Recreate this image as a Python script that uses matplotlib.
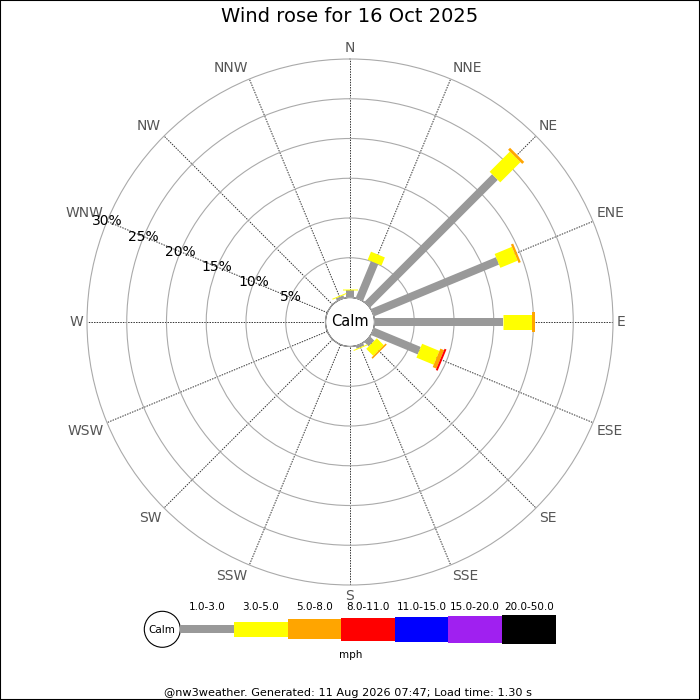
import matplotlib
matplotlib.use("Agg")
import matplotlib.pyplot as plt
import numpy as np
from matplotlib.patches import Rectangle, Circle

# directions, clockwise from north
directions = ["N", "NNE", "NE", "ENE", "E", "ESE", "SE", "SSE",
              "S", "SSW", "SW", "WSW", "W", "WNW", "NW", "NNW"]

speed_bins = ["1.0-3.0", "3.0-5.0", "5.0-8.0", "8.0-11.0",
              "11.0-15.0", "15.0-20.0", "20.0-50.0"]

# percent of time per direction, one list per speed bin (mph)
pct_1_3 = [0.95, 5.0, 22.7, 17.0, 16.2, 6.35, 0.75, 0.35,
           0, 0, 0, 0, 0, 0, 0, 0.35]
pct_3_5 = [0.12, 1.1, 3.6, 2.35, 3.55, 2.35, 1.25, 0.12,
           0, 0, 0, 0, 0, 0, 0, 0.12]
pct_5_8 = [0, 0, 0.35, 0.3, 0.42, 0.5, 0.2, 0,
           0, 0, 0, 0, 0, 0, 0, 0]
pct_8_11 = [0, 0, 0, 0, 0, 0.25, 0, 0,
            0, 0, 0, 0, 0, 0, 0, 0]
pct_11_15 = [0] * 16
pct_15_20 = [0] * 16
pct_20_50 = [0] * 16

ring_pcts = [5, 10, 15, 20, 25, 30]

title = "Wind rose for 16 Oct 2025"
footer = "@nw3weather. Generated: 11 Aug 2026 07:47; Load time: 1.30 s"

# styles
colors = ["#999999", "#ffff00", "#ffa500", "#ff0000", "#0000ff", "#a020f0", "#000000"]
widths_px = [8, 15, 20, 23, 25, 27, 29]
PX = 72 / 100  # points per pixel at dpi 100

series = [pct_1_3, pct_3_5, pct_5_8, pct_8_11, pct_11_15, pct_15_20, pct_20_50]

fig = plt.figure(figsize=(7, 7), dpi=100)

# polar area: centre (350, 322) px, outer ring 263 px, calm hole 24.5 px
rmax = 30
scale = (263 - 24.5) / rmax
rorigin = -24.5 / scale
side = 2 * 263 / 700
ax = fig.add_axes([(350 - 263) / 700, (378 - 263) / 700, side, side],
                  projection="polar")
ax.set_theta_zero_location("N")
ax.set_theta_direction(-1)
ax.set_rlim(0, rmax)
ax.set_rorigin(rorigin)

theta = np.deg2rad(np.arange(16) * 22.5)
ax.set_thetagrids(np.arange(16) * 22.5, [""] * 16)
ax.set_rgrids(ring_pcts[:-1], [""] * 5)
ax.xaxis.grid(True, color="#333333", linestyle=(0, (1.5, 1.2)), linewidth=0.7)
ax.yaxis.grid(True, color="#aaaaaa", linestyle="-", linewidth=0.8)
ax.spines["polar"].set_color("#aaaaaa")
ax.spines["polar"].set_linewidth(0.8)
for name in ("inner", "start", "end"):
    try:
        ax.spines[name].set_visible(False)
    except KeyError:
        pass

# stacked bars as thick radial lines
cum = np.zeros(16)
for vals, col, wpx in zip(series, colors, widths_px):
    vals = np.array(vals, dtype=float)
    for i in range(16):
        if vals[i] > 0:
            ax.plot([theta[i], theta[i]], [cum[i], cum[i] + vals[i]],
                    color=col, linewidth=wpx * PX, solid_capstyle="butt",
                    zorder=3)
    cum += vals

# calm circle
tt = np.linspace(0, 2 * np.pi, 300)
ax.plot(tt, np.zeros_like(tt), color="#aaaaaa", linewidth=0.8, zorder=4,
        clip_on=False)
ax.text(0.5, 0.5, "Calm", transform=ax.transAxes, ha="center", va="center",
        fontsize=10.5, color="black", zorder=5)

# direction labels
for t, lab in zip(theta, directions):
    s, c = np.sin(t), np.cos(t)
    ha = "left" if s > 0.01 else ("right" if s < -0.01 else "center")
    va = "bottom" if c > 0.01 else ("top" if c < -0.01 else "center")
    ax.text(t, 30.5, lab, ha=ha, va=va, fontsize=10, color="#555555",
            clip_on=False)

# percentage labels along WNW spoke
for r in ring_pcts:
    ax.text(theta[13], r, f"{r}%", ha="center", va="center", fontsize=10,
            color="black", clip_on=False, zorder=5)

# legend and texts in pixel coordinates
lax = fig.add_axes([0, 0, 1, 1])
lax.set_xlim(0, 700)
lax.set_ylim(700, 0)
lax.axis("off")
lax.patch.set_alpha(0)

lax.add_patch(Circle((162.3, 629.3), 18, facecolor="white",
                     edgecolor="black", linewidth=0.8))
lax.text(162.3, 630, "Calm", ha="center", va="center", fontsize=7.5)
x0, seg = 180.3, 53.6
for k, (lab, col, h) in enumerate(zip(speed_bins, colors, widths_px)):
    lax.add_patch(Rectangle((x0 + k * seg, 629.3 - h / 2), seg, h,
                            facecolor=col, edgecolor="none"))
    lax.text(x0 + (k + 0.5) * seg, 607.5, lab, ha="center", va="center",
             fontsize=7.5)
lax.text(350.5, 654.5, "mph", ha="center", va="center", fontsize=7.5)

fig.text(0.5, 1 - 17 / 700, title, ha="center", va="center", fontsize=14)
fig.text(348 / 700, 1 - 693 / 700, footer, ha="center", va="center",
         fontsize=8.1)

fig.patches.append(Rectangle((0, 0), 1, 1, transform=fig.transFigure,
                             fill=False, edgecolor="black", linewidth=1.5))

fig.savefig("out.png", dpi=100)
